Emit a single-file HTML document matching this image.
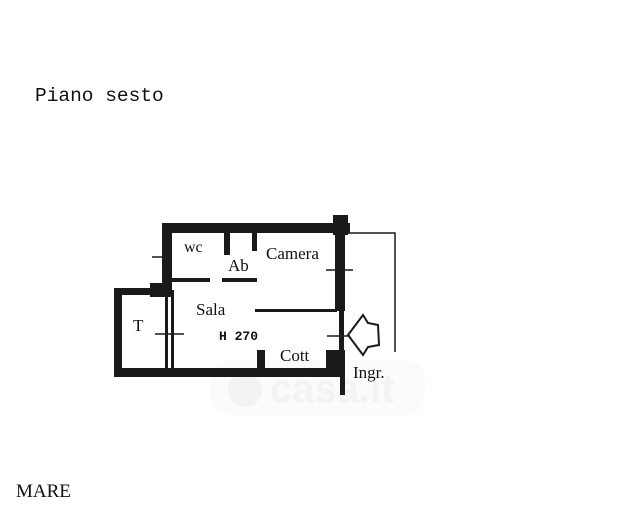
<!DOCTYPE html>
<html><head><meta charset="utf-8"><style>
html,body{margin:0;padding:0;background:#fff;width:635px;height:517px;overflow:hidden}
</style></head><body>
<svg width="635" height="517" viewBox="0 0 635 517" xmlns="http://www.w3.org/2000/svg">
<rect width="635" height="517" fill="#fff"/>
<!-- faint watermark -->
<rect x="210" y="360" width="215" height="55" rx="20" fill="#fbfbfb"/>
<text x="270" y="402" font-family="Liberation Sans, sans-serif" font-size="40" font-weight="bold" fill="#f3f3f3">casa.it</text>
<circle cx="245" cy="390" r="17" fill="#f3f3f3"/>
<text x="35" y="101" font-family="Liberation Mono, monospace" font-size="19.5" fill="#111">Piano sesto</text>
<text x="16" y="497" font-family="Liberation Serif, serif" font-size="19" fill="#111">MARE</text>
<g fill="#1a1a1a">
<rect x="162" y="223" width="188" height="10"/>
<rect x="333" y="215" width="15" height="20"/>
<rect x="162" y="223" width="10" height="72"/>
<rect x="170" y="278" width="40" height="4"/>
<rect x="222" y="278" width="35" height="4"/>
<rect x="224" y="233" width="6" height="22"/>
<rect x="252" y="233" width="5" height="18"/>
<rect x="335" y="223" width="10" height="88"/>
<rect x="339" y="310" width="5" height="42"/>
<rect x="326" y="350" width="19" height="22"/>
<rect x="340" y="350" width="5" height="45"/>
<rect x="114" y="368" width="231" height="9"/>
<rect x="114" y="288" width="8" height="89"/>
<rect x="114" y="288" width="58" height="7"/>
<rect x="150" y="283" width="22" height="14"/>
<rect x="165" y="290" width="3" height="80"/>
<rect x="171" y="290" width="3" height="80"/>
<rect x="257" y="350" width="8" height="20"/>
<rect x="255" y="309" width="82" height="3"/>
</g>
<g stroke="#1a1a1a" stroke-width="1.5" fill="none">
<path d="M348 233 H395 V352"/>
<path d="M152 257 H168"/>
<path d="M326 270 H353"/>
<path d="M155 334 H184"/>
<path d="M327 336 H350"/>
<path d="M348 335 L363 315 L368 323 L378 325 L379 345 L368 347 L363 355 Z" stroke-width="2"/>
</g>
<g font-family="Liberation Serif, serif" fill="#111">
<text x="184" y="252" font-size="16">wc</text>
<text x="228" y="271" font-size="17">Ab</text>
<text x="266" y="259" font-size="17">Camera</text>
<text x="196" y="315" font-size="17">Sala</text>
<text x="133" y="331" font-size="17">T</text>
<text x="280" y="361" font-size="17">Cott</text>
<text x="353" y="378" font-size="17">Ingr.</text>
</g>
<text x="219" y="340" font-family="Liberation Mono, monospace" font-size="13" font-weight="bold" fill="#111">H 270</text>
</svg>
</body></html>
